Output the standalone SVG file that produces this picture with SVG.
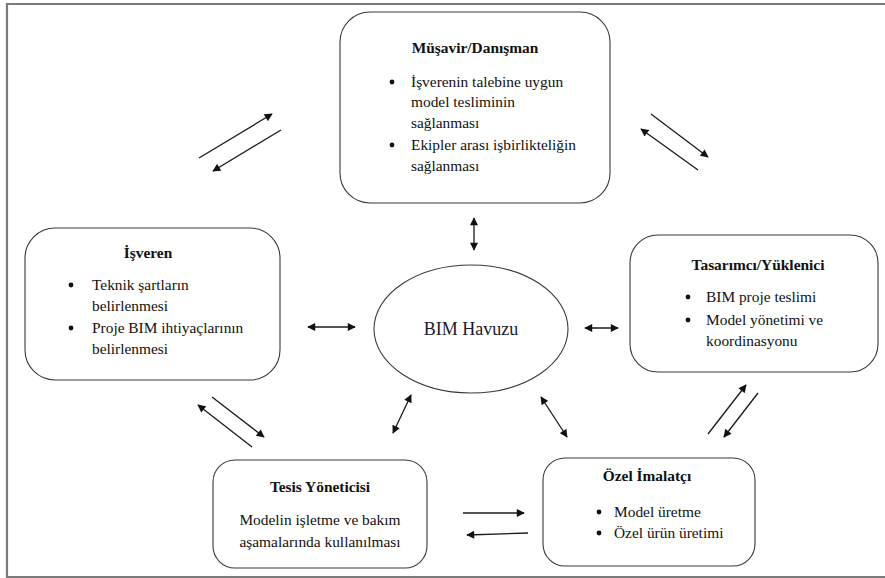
<svg xmlns="http://www.w3.org/2000/svg" width="885" height="578" viewBox="0 0 885 578">
  <defs>
    <marker id="head" viewBox="0 0 10 10" refX="9" refY="5" markerWidth="9" markerHeight="8" markerUnits="userSpaceOnUse" orient="auto-start-reverse">
      <path d="M0,0 L10,5 L0,10 z" fill="#111"/>
    </marker>
  </defs>
  <style>
    .frame { stroke: #7a7a7a; stroke-width: 2.2; fill: none; }
    .box { fill: #fff; stroke: #3a3a3a; stroke-width: 1.1; }
    .title { font-family: "Liberation Serif", "Times New Roman", serif; font-size: 15.4px; font-weight: bold; fill: #111; }
    .txt { font-family: "Liberation Serif", "Times New Roman", serif; font-size: 15.4px; fill: #111; }
    .center { font-family: "Liberation Serif", "Times New Roman", serif; font-size: 18px; fill: #1a1a2e; }
    .mid { text-anchor: middle; }
    .arrow { stroke: #1a1a1a; stroke-width: 1.3; fill: none; }
    .one { marker-end: url(#head); }
    .two { marker-start: url(#head); marker-end: url(#head); }
  </style>

  <rect width="885" height="578" fill="#fff"/>
  <!-- page frame -->
  <path class="frame" d="M885,4 H7 V577 H885"/>

  <!-- central pool -->
  <g id="bim-havuzu">
    <ellipse class="box" cx="471" cy="329" rx="97" ry="64"/>
    <text class="center mid" x="471" y="335">BIM Havuzu</text>
  </g>

  <g id="musavir">
    <rect class="box" x="340" y="12" width="270" height="191" rx="30"/>
    <text class="title mid" x="475" y="53">Müşavir/Danışman</text>
    <circle cx="392" cy="82" r="2.4" fill="#111"/>
    <text class="txt" x="411" y="87">İşverenin talebine uygun</text>
    <text class="txt" x="411" y="107">model tesliminin</text>
    <text class="txt" x="411" y="128">sağlanması</text>
    <circle cx="392" cy="145" r="2.4" fill="#111"/>
    <text class="txt" x="411" y="150">Ekipler arası işbirlikteliğin</text>
    <text class="txt" x="411" y="171">sağlanması</text>
  </g>

  <g id="isveren">
    <rect class="box" x="25" y="228" width="255" height="152" rx="30"/>
    <text class="title mid" x="148" y="258">İşveren</text>
    <circle cx="71" cy="285" r="2.4" fill="#111"/>
    <text class="txt" x="92" y="290">Teknik şartların</text>
    <text class="txt" x="92" y="311">belirlenmesi</text>
    <circle cx="71" cy="328" r="2.4" fill="#111"/>
    <text class="txt" x="92" y="333">Proje BIM ihtiyaçlarının</text>
    <text class="txt" x="92" y="354">belirlenmesi</text>
  </g>

  <g id="tasarimci">
    <rect class="box" x="630" y="235" width="248" height="137" rx="28"/>
    <text class="title mid" x="758" y="270">Tasarımcı/Yüklenici</text>
    <circle cx="688" cy="297" r="2.4" fill="#111"/>
    <text class="txt" x="706" y="302">BIM proje teslimi</text>
    <circle cx="688" cy="320" r="2.4" fill="#111"/>
    <text class="txt" x="706" y="325">Model yönetimi ve</text>
    <text class="txt" x="706" y="346">koordinasyonu</text>
  </g>

  <g id="tesis-yoneticisi">
    <rect class="box" x="213" y="460" width="214" height="108" rx="22"/>
    <text class="title mid" x="320" y="492">Tesis Yöneticisi</text>
    <text class="txt mid" x="320" y="525">Modelin işletme ve bakım</text>
    <text class="txt mid" x="320" y="547">aşamalarında kullanılması</text>
  </g>

  <g id="ozel-imalatci">
    <rect class="box" x="543" y="458" width="212" height="108" rx="22"/>
    <text class="title mid" x="647" y="481">Özel İmalatçı</text>
    <circle cx="599" cy="512" r="2.4" fill="#111"/>
    <text class="txt" x="614" y="517">Model üretme</text>
    <circle cx="599" cy="533" r="2.4" fill="#111"/>
    <text class="txt" x="614" y="538">Özel ürün üretimi</text>
  </g>

  <g id="connectors">
    <!-- pool links -->
    <line class="arrow two" x1="474" y1="218" x2="474" y2="250"/>
    <line class="arrow two" x1="308" y1="327" x2="355" y2="327"/>
    <line class="arrow two" x1="585" y1="328" x2="618" y2="328"/>
    <line class="arrow two" x1="411" y1="395" x2="393" y2="433"/>
    <line class="arrow two" x1="541" y1="397" x2="567" y2="437"/>
    <!-- paired flows between parties -->
    <line class="arrow one" x1="199" y1="158" x2="272" y2="114"/>
    <line class="arrow one" x1="281" y1="130" x2="213" y2="171"/>
    <line class="arrow one" x1="651" y1="114" x2="708" y2="157"/>
    <line class="arrow one" x1="698" y1="170" x2="641" y2="129"/>
    <line class="arrow one" x1="212" y1="397" x2="264" y2="437"/>
    <line class="arrow one" x1="252" y1="447" x2="198" y2="405"/>
    <line class="arrow one" x1="708" y1="434" x2="746" y2="385"/>
    <line class="arrow one" x1="758" y1="393" x2="724" y2="437"/>
    <line class="arrow one" x1="463" y1="513" x2="524" y2="513"/>
    <line class="arrow one" x1="528" y1="533" x2="467" y2="535"/>
  </g>
</svg>
